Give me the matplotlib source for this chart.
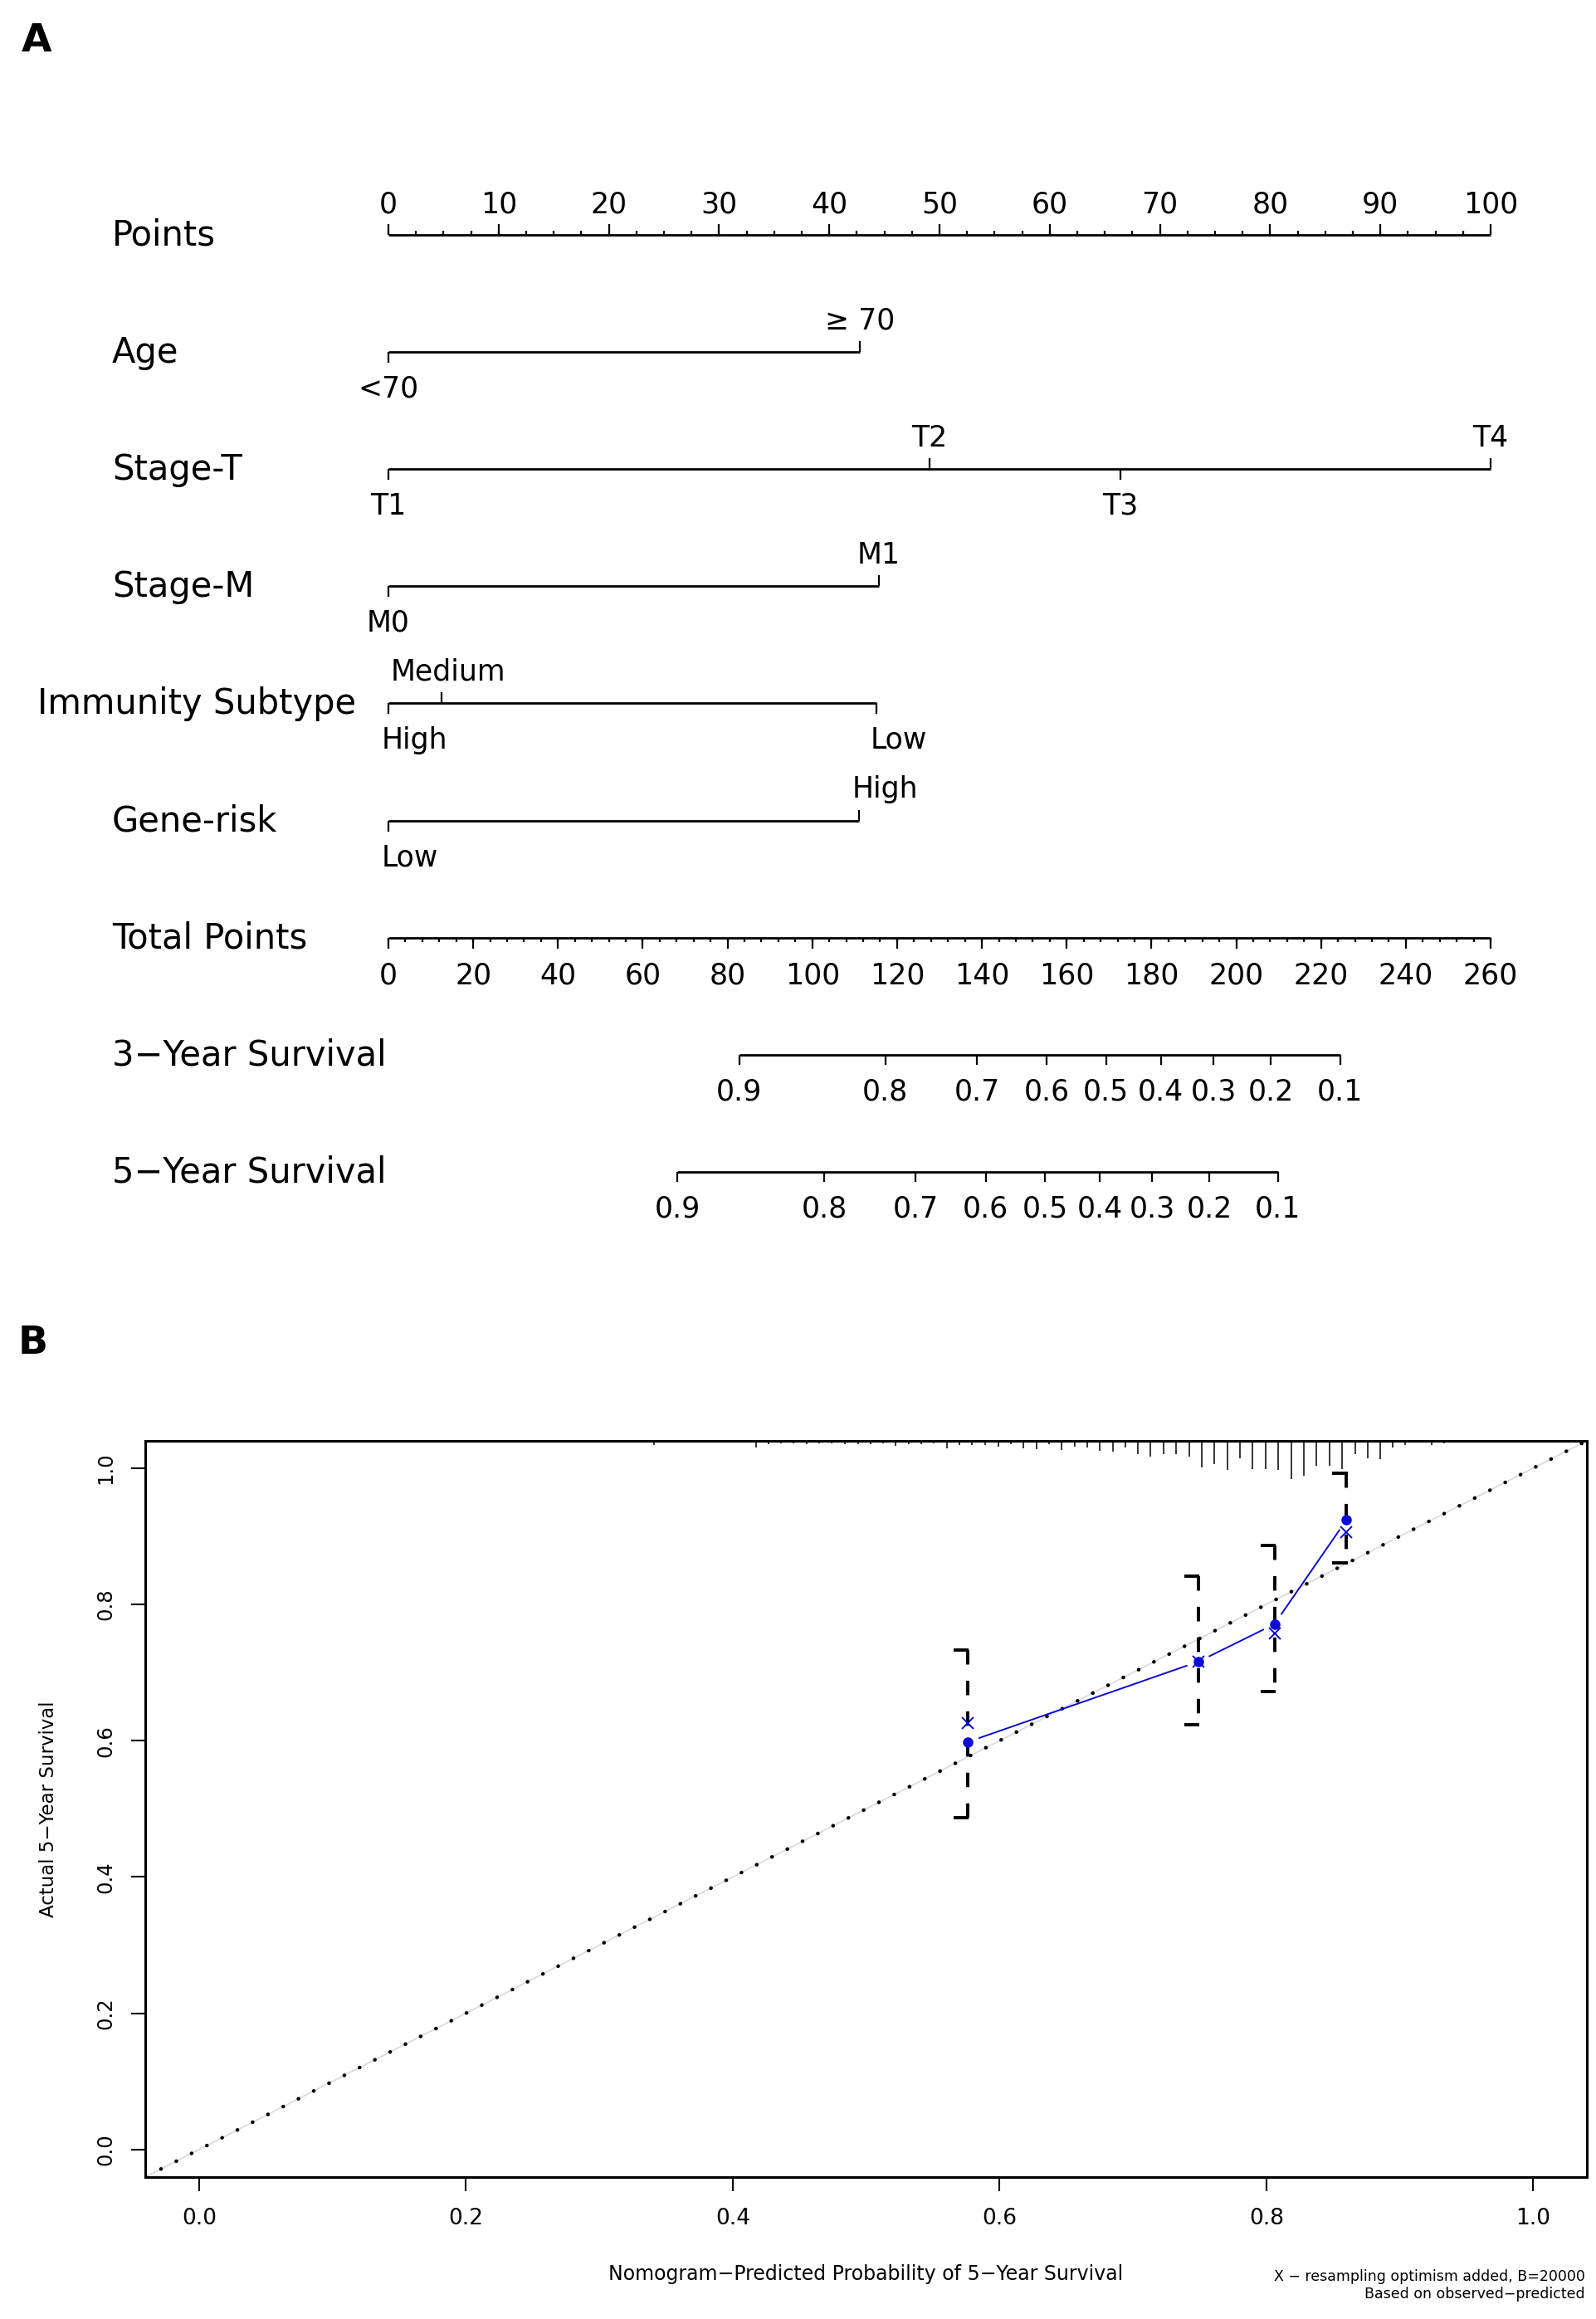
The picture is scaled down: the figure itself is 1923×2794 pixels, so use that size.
import numpy as np
import matplotlib
matplotlib.use("Agg")
import matplotlib.pyplot as plt

plt.rcParams['font.family'] = ['DejaVu Sans']

# ---------------- panel A : nomogram values ----------------
row_names = ["Points", "Age", "Stage-T", "Stage-M", "Immunity Subtype",
             "Gene-risk", "Total Points", "3\u2212Year Survival", "5\u2212Year Survival"]

age_lab = ["<70", "\u2265 70"]
age_pts = [0, 42.8]
stageT_lab = ["T1", "T2", "T3", "T4"]
stageT_pts = [0, 49.1, 66.4, 100]
stageM_lab = ["M0", "M1"]
stageM_pts = [0, 44.5]
immune_lab = ["High", "Medium", "Low"]
immune_pts = [0, 4.8, 44.3]
gene_lab = ["Low", "High"]
gene_pts = [0, 42.7]

surv_lab = ["0.9", "0.8", "0.7", "0.6", "0.5", "0.4", "0.3", "0.2", "0.1"]
surv3_total = [82.8, 117.2, 138.8, 155.3, 169.3, 182.2, 194.7, 208.1, 224.5]
surv5_total = [68.2, 102.8, 124.4, 140.9, 154.9, 167.8, 180.1, 193.7, 209.8]

points_max = 100
total_max = 260

# ---------------- panel B : calibration values ----------------
cal_pred = [0.576, 0.749, 0.806, 0.860]
cal_obs = [0.598, 0.716, 0.771, 0.924]
cal_corr = [0.626, 0.716, 0.757, 0.906]
cal_lo = [0.487, 0.624, 0.672, 0.861]
cal_hi = [0.733, 0.841, 0.887, 0.992]

rug_x = [0.007, 0.188, 0.256, 0.294, 0.322, 0.341, 0.360,
         0.4173, 0.4268, 0.4363, 0.4458, 0.4553, 0.4648, 0.4744, 0.4843, 0.4938, 0.5033,
         0.5128, 0.5223, 0.5318, 0.5413, 0.5508, 0.5603, 0.5698, 0.5793, 0.5891, 0.5991,
         0.6086, 0.6181, 0.6276, 0.6371, 0.6466, 0.6561, 0.6656, 0.6751, 0.6847, 0.6943,
         0.7039, 0.7132, 0.7228, 0.7323, 0.7420, 0.7515, 0.7611, 0.7707, 0.7802, 0.7898,
         0.7994, 0.8089, 0.8185, 0.8278, 0.8377, 0.8472, 0.8568, 0.8664, 0.8757, 0.8853,
         0.8949, 0.9042, 0.9140, 0.9236, 0.9332, 0.9616]
rug_n = [1, 1, 1, 1, 2, 5, 2,
         8, 4, 3, 3, 4, 3, 3, 4, 4, 4,
         3, 6, 4, 4, 3, 9, 5, 5, 5, 7,
         4, 9, 10, 4, 11, 7, 8, 12, 13, 8,
         16, 19, 16, 16, 19, 31, 27, 34, 21, 33,
         33, 34, 45, 41, 29, 29, 33, 16, 21, 22,
         8, 5, 2, 5, 3, 2]

# ---------------- figure ----------------
W, H = 1924, 2794
fig = plt.figure(figsize=(W / 100, H / 100), dpi=100)

# nomogram axes: x in "points" units, y in row units (pixel mapped)
x0_px, px_per_pt = 468.0, 13.28
row0_px, row_px = 283.0, 141.1
top_h = 1550
axA = fig.add_axes([0, 1 - top_h / H, 1, top_h / H])
axA.set_xlim(-x0_px / px_per_pt, (W - x0_px) / px_per_pt)
axA.set_ylim((top_h - row0_px) / row_px, -row0_px / row_px)
axA.axis('off')

P = 1.0 / row_px          # one pixel in row units
XP = 1.0 / px_per_pt      # one pixel in points units
LW = 2.0
VAR_FS = 30
TICK_FS = 25
left_words = ("High", "Low")   # these level labels start at their tick in the original

for i, name in enumerate(row_names):
    xl = 135 if name != "Immunity Subtype" else 45
    axA.text((xl - x0_px) / px_per_pt, i - 4 * P, name, fontsize=VAR_FS,
             ha='left', va='center_baseline')

# Points scale
axA.hlines(0, 0, points_max, color='black', lw=LW)
major = np.arange(0, points_max + 1, 10)
minor = np.arange(0, points_max + 0.1, 2.5)
axA.vlines(minor, 0, -5 * P, color='black', lw=1.6)
axA.vlines(major, 0, -13 * P, color='black', lw=1.6)
for v in major:
    axA.text(v, -40 * P, "%d" % v, fontsize=TICK_FS, ha='center', va='center_baseline')

# predictor scales
variables = [(age_lab, age_pts), (stageT_lab, stageT_pts), (stageM_lab, stageM_pts),
             (immune_lab, immune_pts), (gene_lab, gene_pts)]
for r, (labs, pts) in enumerate(variables, start=1):
    axA.hlines(r, min(pts), max(pts), color='black', lw=LW)
    for j, (lab, p) in enumerate(zip(labs, pts)):
        side = 1 if j % 2 == 0 else -1
        axA.vlines(p, r, r + side * 13 * P, color='black', lw=1.6)
        if lab in left_words:
            axA.text(p - 8 * XP, r + side * 41 * P, lab, fontsize=TICK_FS,
                     ha='left', va='center_baseline')
        else:
            axA.text(p + (8 * XP if lab == "Medium" else 0), r + side * 41 * P, lab,
                     fontsize=TICK_FS, ha='center', va='center_baseline')

# Total points scale
scale = points_max / total_max
r = 6
axA.hlines(r, 0, points_max, color='black', lw=LW)
tmaj = np.arange(0, total_max + 1, 20)
tmin = np.arange(0, total_max + 1, 4)
axA.vlines(tmin * scale, r, r + 5 * P, color='black', lw=1.6)
axA.vlines(tmaj * scale, r, r + 13 * P, color='black', lw=1.6)
for v in tmaj:
    axA.text(v * scale, r + 42 * P, "%d" % v, fontsize=TICK_FS,
             ha='center', va='center_baseline')

# survival scales
for r, tot in [(7, surv3_total), (8, surv5_total)]:
    xs = np.array(tot) * scale
    axA.hlines(r, xs.min(), xs.max(), color='black', lw=LW)
    axA.vlines(xs, r, r + 12 * P, color='black', lw=1.6)
    for x, lab in zip(xs, surv_lab):
        axA.text(x, r + 41 * P, lab, fontsize=TICK_FS, ha='center', va='center_baseline')

fig.text(44 / W, 1 - 50 / H, "A", fontsize=34, fontweight='bold', ha='center', va='center')
fig.text(40 / W, 1 - 1618 / H, "B", fontsize=34, fontweight='bold', ha='center', va='center')

# ---------------- panel B : calibration ----------------
fl, fr, ft, fb = 175.5, 1911.7, 1736.0, 2622.7
axB = fig.add_axes([fl / W, 1 - fb / H, (fr - fl) / W, (fb - ft) / H])
axB.set_xlim(-0.04, 1.04)
axB.set_ylim(-0.04, 1.04)
for s in axB.spines.values():
    s.set_linewidth(2.2)

# ideal line
axB.plot([-0.04, 1.04], [-0.04, 1.04], color='#d9d9d9', lw=1.2, zorder=1)
axB.plot([-0.04, 1.04], [-0.04, 1.04], color='black', lw=3.2,
         linestyle=(0, (0.05, 4.6)), dash_capstyle='round', zorder=2)

# distribution of predictions (spikes from the top)
rug_len = np.array(rug_n) / max(rug_n) * 0.056
axB.vlines(rug_x, 1.04 - rug_len, 1.04, color='black', lw=1.1)

# error bars with one-sided caps
cap = 0.0105
axB.vlines(cal_pred, cal_hi, cal_lo, color='black', lw=2.8,
           linestyles=[(0, (4.5, 5.0))])
axB.hlines(cal_hi, np.array(cal_pred) - cap, np.array(cal_pred) + 0.001, color='black', lw=2.8)
axB.hlines(cal_lo, np.array(cal_pred) - cap, np.array(cal_pred) + 0.001, color='black', lw=2.8)

# observed line, drawn with gaps at the points (R type="b")
blue = '#0a0ad8'
pts_px = axB.transData.transform(np.column_stack([cal_pred, cal_obs]))
gap = 15.0
for a, b in zip(pts_px[:-1], pts_px[1:]):
    d = b - a
    L = np.hypot(*d)
    u = d / L
    seg = axB.transData.inverted().transform(np.array([a + u * gap, b - u * gap]))
    axB.plot(seg[:, 0], seg[:, 1], color=blue, lw=1.4, zorder=4)
axB.plot(cal_pred, cal_obs, 'o', color=blue, ms=8, zorder=5)
axB.plot(cal_pred, cal_corr, 'x', color=blue, ms=10, mew=1.4, zorder=5)

ticks = [0.0, 0.2, 0.4, 0.6, 0.8, 1.0]
axB.set_xticks(ticks)
axB.set_yticks(ticks)
axB.set_xticklabels(["%.1f" % t for t in ticks])
axB.set_yticklabels(["%.1f" % t for t in ticks], rotation=90, va='center')
axB.tick_params(direction='out', length=12, width=1.5, labelsize=19, pad=15)
axB.tick_params(axis='y', labelsize=17.5, pad=14)

axB.set_xlabel("Nomogram\u2212Predicted Probability of 5\u2212Year Survival", fontsize=17, va='center')
axB.xaxis.set_label_coords(0.5, (fb - 2740) / (fb - ft))
axB.set_ylabel("Actual 5\u2212Year Survival", fontsize=16.5, va='center')
axB.yaxis.set_label_coords((59 - fl) / (fr - fl), 0.5)

fig.text(1910 / W, 1 - 2743 / H, "X \u2212 resampling optimism added, B=20000",
         fontsize=12.5, ha='right', va='center')
fig.text(1910 / W, 1 - 2764 / H, "Based on observed\u2212predicted",
         fontsize=12.5, ha='right', va='center')

fig.savefig("out.png", dpi=100, facecolor='white')
